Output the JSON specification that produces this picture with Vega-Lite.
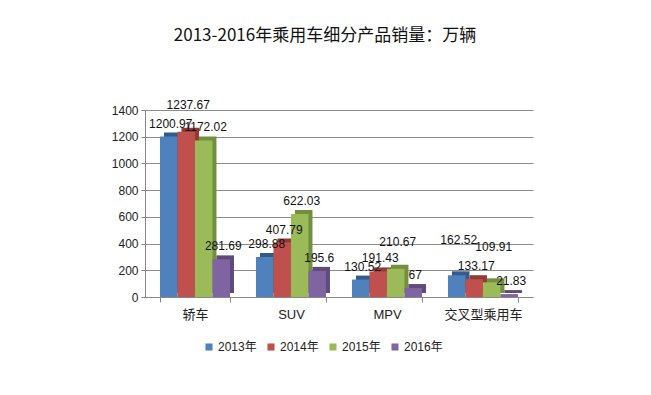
{
  "$schema": "https://vega.github.io/schema/vega-lite/v6.json",
  "width": 388,
  "height": 187,
  "autosize": "none",
  "padding": {"left": 145, "top": 110, "right": 118, "bottom": 98},
  "background": "white",
  "title": {
    "text": "2013-2016年乘用车细分产品销量：万辆",
    "font": "Noto Sans CJK SC",
    "fontSize": 17,
    "fontWeight": "normal",
    "color": "#111",
    "anchor": "middle",
    "dx": -14,
    "offset": 54
  },
  "data": {
    "values": [
      {"category": "轿车", "year": "2013年", "value": 1200.97},
      {"category": "轿车", "year": "2014年", "value": 1237.67},
      {"category": "轿车", "year": "2015年", "value": 1172.02},
      {"category": "轿车", "year": "2016年", "value": 281.69},
      {"category": "SUV", "year": "2013年", "value": 298.88},
      {"category": "SUV", "year": "2014年", "value": 407.79},
      {"category": "SUV", "year": "2015年", "value": 622.03},
      {"category": "SUV", "year": "2016年", "value": 195.6},
      {"category": "MPV", "year": "2013年", "value": 130.52},
      {"category": "MPV", "year": "2014年", "value": 191.43},
      {"category": "MPV", "year": "2015年", "value": 210.67},
      {"category": "MPV", "year": "2016年", "value": 67},
      {"category": "交叉型乘用车", "year": "2013年", "value": 162.52},
      {"category": "交叉型乘用车", "year": "2014年", "value": 133.17},
      {"category": "交叉型乘用车", "year": "2015年", "value": 109.91},
      {"category": "交叉型乘用车", "year": "2016年", "value": 21.83}
    ]
  },
  "encoding": {
    "x": {
      "field": "category",
      "type": "nominal",
      "sort": null,
      "scale": {"paddingInner": 0.27, "paddingOuter": 0.156},
      "axis": {
        "title": null,
        "labelAngle": 0,
        "labelFont": "Liberation Sans, Noto Sans CJK SC",
        "labelFontSize": 13,
        "labelColor": "#222",
        "labelPadding": 6,
        "domainColor": "#888",
        "tickColor": "#888",
        "tickBand": "extent",
        "tickSize": 5
      }
    },
    "y": {
      "field": "value",
      "type": "quantitative",
      "scale": {"domain": [0, 1400]},
      "axis": {
        "title": null,
        "values": [0, 200, 400, 600, 800, 1000, 1200, 1400],
        "format": "d",
        "labelFont": "Liberation Sans",
        "labelFontSize": 12,
        "labelColor": "#222",
        "labelPadding": 3,
        "domainColor": "#888",
        "tickColor": "#888",
        "tickSize": 4,
        "gridColor": "#8c8c8c",
        "gridWidth": 1
      }
    }
  },
  "layer": [
    {
      "mark": {"type": "bar", "yOffset": -4},
      "encoding": {
        "xOffset": {"field": "year", "type": "nominal", "scale": {"domain": ["2013年", "2014年", "2015年", "2016年"], "range": [4, 74]}},
        "color": {
          "field": "year",
          "type": "nominal",
          "scale": {"domain": ["2013年", "2014年", "2015年", "2016年"], "range": ["#335C8C", "#923A38", "#728E3E", "#5E4A7C"]},
          "legend": null
        }
      }
    },
    {
      "mark": {"type": "bar"},
      "encoding": {
        "xOffset": {"field": "year", "type": "nominal", "scale": {"domain": ["2013年", "2014年", "2015年", "2016年"], "range": [0, 70]}},
        "color": {
          "field": "year",
          "type": "nominal",
          "scale": {"domain": ["2013年", "2014年", "2015年", "2016年"], "range": ["#4F81BD", "#C0504D", "#9BBB59", "#8064A2"]},
          "legend": {
            "title": null,
            "orient": "none",
            "direction": "horizontal",
            "columns": 4,
            "legendX": 58,
            "legendY": 231,
            "symbolType": "square",
            "symbolSize": 50,
            "symbolStrokeWidth": 0,
            "labelFont": "Liberation Sans, Noto Sans CJK SC",
            "labelFontSize": 12,
            "labelColor": "#222",
            "labelOffset": 3,
            "columnPadding": 8
          }
        }
      }
    },
    {
      "transform": [{"filter": "!((datum.category=='轿车'&&datum.year=='2014年')||(datum.category=='MPV'&&datum.year=='2015年')||(datum.category=='交叉型乘用车'&&(datum.year=='2013年'||datum.year=='2015年')))"}],
      "mark": {"type": "text", "dy": -13, "dx": 2, "font": "Liberation Sans", "fontSize": 12, "color": "#111"},
      "encoding": {
        "xOffset": {"field": "year", "type": "nominal", "scale": {"domain": ["2013年", "2014年", "2015年", "2016年"], "range": [0, 70]}},
        "text": {"field": "value", "type": "quantitative", "format": ""}
      }
    },
    {
      "transform": [{"filter": "(datum.category=='轿车'&&datum.year=='2014年')||(datum.category=='MPV'&&datum.year=='2015年')"}],
      "mark": {"type": "text", "dy": -27, "dx": 2, "font": "Liberation Sans", "fontSize": 12, "color": "#111"},
      "encoding": {
        "xOffset": {"field": "year", "type": "nominal", "scale": {"domain": ["2013年", "2014年", "2015年", "2016年"], "range": [0, 70]}},
        "text": {"field": "value", "type": "quantitative", "format": ""}
      }
    },
    {
      "transform": [{"filter": "datum.category=='交叉型乘用车'&&(datum.year=='2013年'||datum.year=='2015年')"}],
      "mark": {"type": "text", "dy": -35, "dx": 2, "font": "Liberation Sans", "fontSize": 12, "color": "#111"},
      "encoding": {
        "xOffset": {"field": "year", "type": "nominal", "scale": {"domain": ["2013年", "2014年", "2015年", "2016年"], "range": [0, 70]}},
        "text": {"field": "value", "type": "quantitative", "format": ""}
      }
    }
  ],
  "resolve": {"scale": {"color": "independent", "xOffset": "independent"}},
  "config": {"view": {"stroke": null}}
}
